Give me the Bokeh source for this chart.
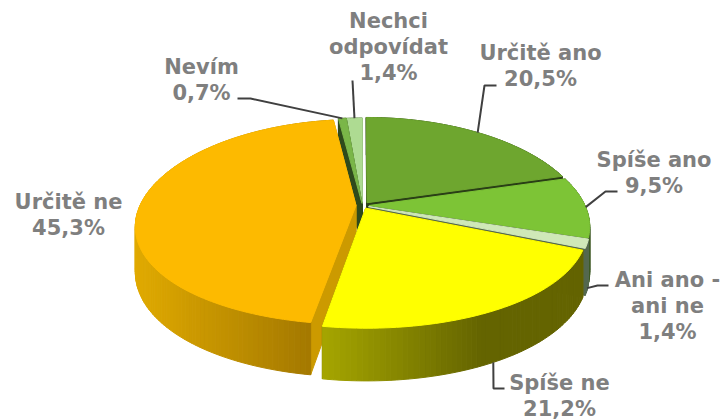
import math
from bokeh.plotting import figure
from bokeh.models import ColumnDataSource
from bokeh.core.properties import value
from bokeh.embed import file_html
from bokeh.resources import INLINE

# --- data
categories = ["Určitě ano", "Spíše ano", "Ani ano - ani ne", "Spíše ne", "Určitě ne", "Nevím", "Nechci odpovídat"]
values = [20.5, 9.5, 1.4, 21.2, 45.3, 0.7, 1.4]
value_labels = ["20,5%", "9,5%", "1,4%", "21,2%", "45,3%", "0,7%", "1,4%"]

# --- style
top_colors = ["#6ea62f", "#7dc436", "#cfe8b8", "#ffff00", "#fdba00", "#7ab648", "#aedb92"]
cut_colors = ["#2a3f16", "#3d5a24", "#55694f", "#666600", "#cc9a00", "#2f4a1c", "#2f4a1c"]
wall_left = [None, None, None, (165, 165, 0), (224, 170, 0), None, None]
wall_right = [None, None, None, (100, 100, 0), (163, 120, 0), None, None]
wall_span = [None, None, None, (323, 480), (135, 312), None, None]
explode = [0.035, 0.03, 0.03, 0.03, 0.03, 0.022, 0.02]
draw_order = [6, 5, 0, 1, 2, 4, 3]
text_color = "#7f7f7f"
line_color = "#404040"

CX, CY = 362.0, 205.0
R, KR, D, DX, H = 216.0, 99.8, 0.161, 0.2, 44.0


def project(X, Y, Z=0.0):
    s = 1.0 / (1.0 + D * Y)
    sx = 1.0 / (1.0 + DX * Y)
    return CX + R * X * sx, CY - KR * Y * s + H * Z * s


total = sum(values)
xs, ys, fills = [], [], []


def add(px, py, c):
    xs.append(px)
    ys.append(py)
    fills.append(c)


starts = []
acc = 0.0
for v in values:
    starts.append(acc)
    acc += v


def slice_point(i, a, r=1.0, z=0.0):
    m = (starts[i] + values[i] / 2) / total * 2 * math.pi
    e = explode[i]
    X = e * math.sin(m) + r * math.sin(a)
    Y = e * math.cos(m) + r * math.cos(a)
    return project(X, Y, z)


for i in draw_order:
    a0 = starts[i] / total * 2 * math.pi
    a1 = (starts[i] + values[i]) / total * 2 * math.pi
    n = max(3, int(values[i] * 3))
    angs = [a0 + (a1 - a0) * k / n for k in range(n + 1)]
    # cut faces
    for a in (a0, a1):
        pts = [slice_point(i, a, 0.0), slice_point(i, a), slice_point(i, a, 1.0, 1.0), slice_point(i, a, 0.0, 1.0)]
        add([q[0] for q in pts], [q[1] for q in pts], cut_colors[i])
    # outer wall
    for k in range(n):
        q4 = [slice_point(i, angs[k]), slice_point(i, angs[k + 1]),
              slice_point(i, angs[k + 1], 1.0, 1.0), slice_point(i, angs[k], 1.0, 1.0)]
        c = cut_colors[i]
        if wall_left[i]:
            mid = (q4[0][0] + q4[1][0]) / 2
            lo, hi = wall_span[i]
            t = min(1.0, max(0.0, (mid - lo) / (hi - lo)))
            rgb = [round(wall_left[i][j] + (wall_right[i][j] - wall_left[i][j]) * t) for j in range(3)]
            c = "#%02x%02x%02x" % tuple(rgb)
        add([q[0] for q in q4], [q[1] for q in q4], c)
    # top
    pts = [slice_point(i, 0, 0.0)] + [slice_point(i, a) for a in angs]
    add([q[0] for q in pts], [q[1] for q in pts], top_colors[i])

p = figure(width=721, height=419, x_range=(0, 721), y_range=(419, 0),
           output_backend="svg", toolbar_location=None, min_border=0)
p.axis.visible = False
p.grid.visible = False
p.outline_line_color = None

p.patches("xs", "ys", fill_color="c", line_color="c", line_width=1,
          source=ColumnDataSource(dict(xs=xs, ys=ys, c=fills)))

# leader lines: (slice, then label-side elbow points)
leaders = {
    0: [(484, 85), (496, 85)],
    1: [(605, 191), (617, 191)],
    2: [(597, 285), (608, 285)],
    3: [(493, 388), (504, 388)],
    5: [(250, 98), (237, 98)],
    6: [(352, 80)],
}
for i, tail in leaders.items():
    a = (starts[i] + values[i] / 2) / total * 2 * math.pi
    z = 1.0 if i == 3 else (0.95 if i == 2 else 0.0)
    sx, sy = slice_point(i, a, 1.0, z)
    p.line([sx] + [t[0] for t in tail], [sy] + [t[1] for t in tail],
           line_color=line_color, line_width=2)

# labels: centre x, first-line y, lines
labels = [
    (0, 540, 52, ["Určitě ano"]),
    (1, 653.5, 159, ["Spíše ano"]),
    (2, 667, 279, ["Ani ano -", "ani ne"]),
    (3, 559, 382, ["Spíše ne"]),
    (4, 68, 201, ["Určitě ne"]),
    (5, 201, 66, ["Nevím"]),
    (6, 388, 20, ["Nechci", "odpovídat"]),
]
tx, ty, tt = [], [], []
for i, x, y, lines in labels:
    for k, s in enumerate(lines + [value_labels[i]]):
        tx.append(x)
        ty.append(y + k * 26)
        tt.append(s)
p.text(tx, ty, text=tt, text_align="center", text_baseline="middle",
       text_font=value("DejaVu Sans"), text_font_style="bold",
       text_font_size="21px", text_color=text_color)

open("out.html", "w").write(file_html(p, INLINE))
